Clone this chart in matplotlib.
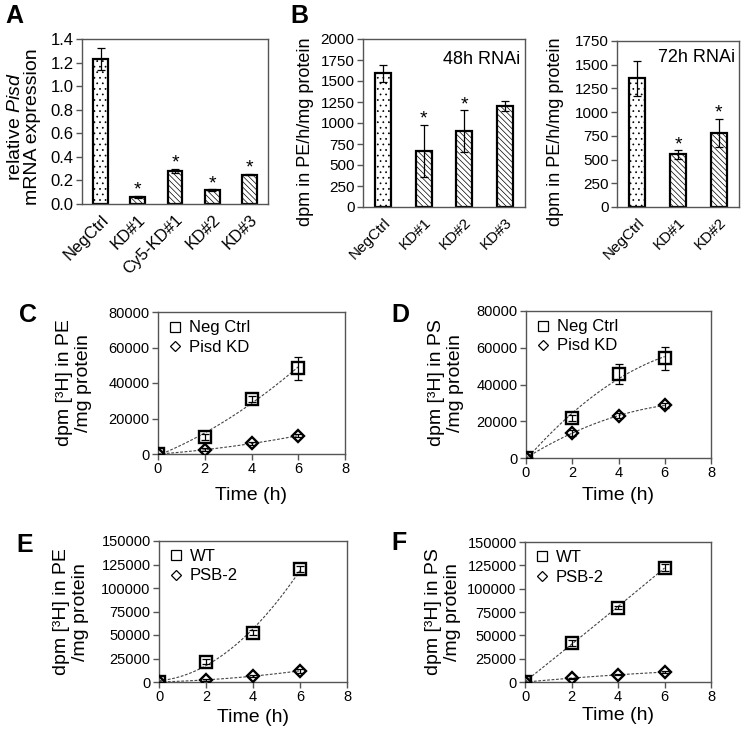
import numpy as np
import matplotlib
matplotlib.use("Agg")
import matplotlib.pyplot as plt
from matplotlib.lines import Line2D

plt.rcParams['font.family'] = ['Liberation Sans', 'DejaVu Sans']
plt.rcParams['mathtext.fontset'] = 'custom'
plt.rcParams['mathtext.rm'] = 'Liberation Sans'
plt.rcParams['mathtext.it'] = 'Liberation Sans:italic'
plt.rcParams['hatch.linewidth'] = 0.5
plt.rcParams['hatch.color'] = '#9a9a9a'

# ---------------- data ----------------
A_cats = ['NegCtrl', 'KD#1', 'Cy5-KD#1', 'KD#2', 'KD#3']
A_vals = [1.23, 0.06, 0.28, 0.12, 0.25]
A_err = [0.09, 0.01, 0.02, 0.006, 0.006]
A_sig = [False, True, True, True, True]

B48_cats = ['NegCtrl', 'KD#1', 'KD#2', 'KD#3']
B48_vals = [1590, 670, 900, 1200]
B48_err = [100, 310, 250, 60]
B48_sig = [False, True, True, False]

B72_cats = ['NegCtrl', 'KD#1', 'KD#2']
B72_vals = [1355, 555, 780]
B72_err = [180, 45, 150]
B72_sig = [False, True, True]

time_h = [0, 2, 4, 6]
C_neg = [0, 9500, 30900, 48300]
C_neg_err = [0, 1500, 1500, 6500]
C_kd = [0, 2300, 6000, 10300]
C_kd_err = [0, 800, 800, 800]

D_neg = [0, 21700, 45800, 54300]
D_neg_err = [0, 1500, 5400, 6300]
D_kd = [0, 13600, 23000, 28600]
D_kd_err = [0, 1500, 1500, 1500]

E_wt = [0, 21500, 52500, 120000]
E_wt_err = [0, 2500, 2500, 3000]
E_psb = [0, 2500, 6000, 12000]
E_psb_err = [0, 1000, 1000, 2000]

F_wt = [0, 41500, 79700, 122500]
F_wt_err = [0, 3000, 2000, 4000]
F_psb = [0, 3800, 8000, 10500]
F_psb_err = [0, 1000, 1000, 1000]

W, H = 745, 734
fig = plt.figure(figsize=(W / 100, H / 100), dpi=100)


def rect(l, t, r, b):
    return [l / W, 1 - b / H, (r - l) / W, (b - t) / H]


SPINE = '#555555'


def style_axes(ax, fs):
    for s in ax.spines.values():
        s.set_color(SPINE)
        s.set_linewidth(1.0)
    ax.tick_params(direction='out', length=4, width=1, color=SPINE,
                   labelsize=fs, pad=2)


def bar_panel(ax, cats, vals, errs, sig, ymax, ystep, fmt, yfs):
    x = np.arange(len(cats))
    hatches = ['...' if i == 0 else '\\\\\\\\\\\\' for i in range(len(cats))]
    for xi, v, h in zip(x, vals, hatches):
        ax.bar(xi, v, width=0.4, color='white', edgecolor='black',
               linewidth=1.6, hatch=h, zorder=2)
    ax.errorbar(x, vals, yerr=errs, fmt='none', ecolor='black',
                elinewidth=0.9, capsize=3, capthick=0.9, zorder=3)
    for xi, v, e, s in zip(x, vals, errs, sig):
        if s:
            ax.annotate('*', (xi, v + e), xytext=(0, 1),
                        textcoords='offset pixels', ha='center',
                        va='baseline', fontsize=14)
    ax.set_xlim(-0.5, len(cats) - 0.5)
    ax.set_ylim(0, ymax)
    ax.set_yticks(np.arange(0, ymax + ystep / 2, ystep))
    ax.yaxis.set_major_formatter(matplotlib.ticker.FormatStrFormatter(fmt))
    ax.set_xticks(x)
    ax.set_xticklabels(cats, rotation=45, ha='right', rotation_mode='anchor',
                       fontsize=12.5)
    style_axes(ax, yfs)
    ax.tick_params(axis='x', length=0, pad=6)


def line_panel(ax, s1, e1, s2, e2, lab1, lab2, ymax, ystep):
    t = np.array(time_h, dtype=float)
    tt = np.linspace(0, 6, 100)
    for s, e, mk in ((s1, e1, 's'), (s2, e2, 'D')):
        coef = np.polyfit(t, s, 2)
        ax.plot(tt, np.polyval(coef, tt), color='#444444', lw=0.8,
                ls=(0, (2.5, 1.5)), zorder=2)
        ax.errorbar(t, s, yerr=e, fmt='none', ecolor='black',
                    elinewidth=0.9, capsize=3, capthick=0.9, zorder=3)
        ax.plot(t, s, ls='none', marker=mk, ms=8 if mk == 's' else 6.5,
                mfc='none', mec='black', mew=1.7, zorder=4)
    ax.set_xlim(0, 8)
    ax.set_ylim(0, ymax)
    ax.set_xticks([0, 2, 4, 6, 8])
    ax.set_yticks(np.arange(0, ymax + ystep / 2, ystep))
    style_axes(ax, 10.5)
    handles = [Line2D([], [], ls='none', marker='s', ms=7, mfc='none',
                      mec='black', mew=0.9),
               Line2D([], [], ls='none', marker='D', ms=5.5, mfc='none',
                      mec='black', mew=0.9)]
    ax.legend(handles, [lab1, lab2], loc='upper left', frameon=False,
              fontsize=12, handlelength=1.0, handletextpad=0.35,
              labelspacing=0.25, borderaxespad=0.2, borderpad=0.3)


# Panel A
axA = fig.add_axes(rect(82, 39, 268, 204))
bar_panel(axA, A_cats, A_vals, A_err, A_sig, 1.4, 0.2, '%.1f', 12)
fig.text(24 / W, 1 - 127 / H, 'relative $\\mathit{Pisd}$\nmRNA expression',
         rotation=90, ha='center', va='center', multialignment='center',
         fontsize=14, linespacing=1.0)

# Panel B
axB1 = fig.add_axes(rect(363, 39, 525, 207))
bar_panel(axB1, B48_cats, B48_vals, B48_err, B48_sig, 2000, 250, '%d', 11)
axB1.text(0.97, 0.875, '48h RNAi', transform=axB1.transAxes, ha='right',
          va='center', fontsize=13)
fig.text(305 / W, 1 - 132 / H, 'dpm in PE/h/mg protein', rotation=90,
         ha='center', va='center', fontsize=13)

axB2 = fig.add_axes(rect(617, 41, 739, 207))
bar_panel(axB2, B72_cats, B72_vals, B72_err, B72_sig, 1750, 250, '%d', 11)
axB2.text(0.97, 0.90, '72h RNAi', transform=axB2.transAxes, ha='right',
          va='center', fontsize=13)
fig.text(556 / W, 1 - 132 / H, 'dpm in PE/h/mg protein', rotation=90,
         ha='center', va='center', fontsize=13)

# Panel C
axC = fig.add_axes(rect(158, 312, 345, 454))
line_panel(axC, C_neg, C_neg_err, C_kd, C_kd_err, 'Neg Ctrl', 'Pisd KD',
           80000, 20000)
fig.text(74 / W, 1 - 383 / H, 'dpm [³H] in PE\n/mg protein', rotation=90,
         ha='center', va='center', multialignment='center', fontsize=14,
         linespacing=1.1)
fig.text(251 / W, 1 - 495 / H, 'Time (h)', ha='center', va='center',
         fontsize=14)

# Panel D
axD = fig.add_axes(rect(526, 311, 711, 458))
line_panel(axD, D_neg, D_neg_err, D_kd, D_kd_err, 'Neg Ctrl', 'Pisd KD',
           80000, 20000)
fig.text(446 / W, 1 - 383 / H, 'dpm [³H] in PS\n/mg protein', rotation=90,
         ha='center', va='center', multialignment='center', fontsize=14,
         linespacing=1.1)
fig.text(618 / W, 1 - 495 / H, 'Time (h)', ha='center', va='center',
         fontsize=14)

# Panel E
axE = fig.add_axes(rect(159, 541, 347, 682))
line_panel(axE, E_wt, E_wt_err, E_psb, E_psb_err, 'WT', 'PSB-2',
           150000, 25000)
fig.text(71 / W, 1 - 612 / H, 'dpm [³H] in PE\n/mg protein', rotation=90,
         ha='center', va='center', multialignment='center', fontsize=14,
         linespacing=1.1)
fig.text(253 / W, 1 - 718 / H, 'Time (h)', ha='center', va='center',
         fontsize=14)

# Panel F
axF = fig.add_axes(rect(525, 542, 711, 682))
line_panel(axF, F_wt, F_wt_err, F_psb, F_psb_err, 'WT', 'PSB-2',
           150000, 25000)
fig.text(443 / W, 1 - 612 / H, 'dpm [³H] in PS\n/mg protein', rotation=90,
         ha='center', va='center', multialignment='center', fontsize=14,
         linespacing=1.1)
fig.text(618 / W, 1 - 716 / H, 'Time (h)', ha='center', va='center',
         fontsize=14)

# Panel letters
for letter, x, y in [('A', 5, 23), ('B', 290, 23), ('C', 19, 322),
                     ('D', 391, 322), ('E', 16, 552), ('F', 391, 550)]:
    fig.text(x / W, 1 - y / H, letter, fontsize=18, fontweight='bold',
             ha='left', va='baseline')

fig.savefig('out.png', dpi=100)
